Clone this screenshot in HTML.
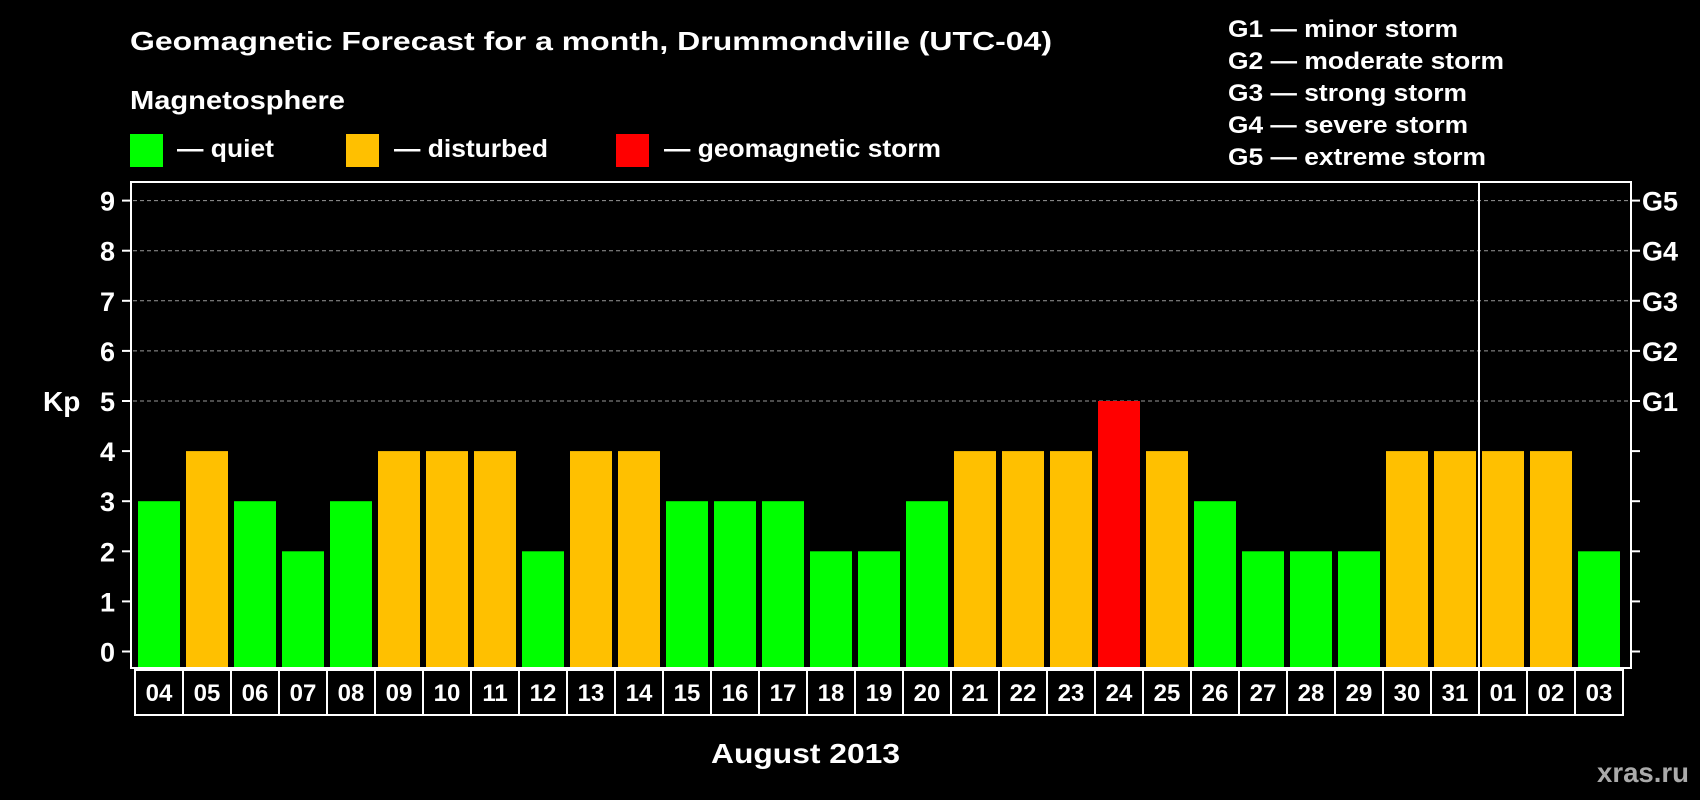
<!DOCTYPE html>
<html><head><meta charset="utf-8"><style>body{margin:0;background:#000}svg{display:block}</style></head>
<body>
<svg id="chart" width="1700" height="800" xmlns="http://www.w3.org/2000/svg" font-family="Liberation Sans, sans-serif" font-weight="bold" fill="#fff">
<rect width="1700" height="800" fill="#000"/>
<text x="130" y="50" font-size="26" textLength="922" lengthAdjust="spacingAndGlyphs">Geomagnetic Forecast for a month, Drummondville (UTC-04)</text>
<text x="130" y="109" font-size="26" textLength="215" lengthAdjust="spacingAndGlyphs">Magnetosphere</text>
<rect x="130" y="134" width="33" height="33" fill="#00ff00"/>
<text x="177" y="157" font-size="25" textLength="97" lengthAdjust="spacingAndGlyphs">— quiet</text>
<rect x="346" y="134" width="33" height="33" fill="#ffc000"/>
<text x="394" y="157" font-size="25" textLength="154" lengthAdjust="spacingAndGlyphs">— disturbed</text>
<rect x="616" y="134" width="33" height="33" fill="#ff0000"/>
<text x="664" y="157" font-size="25" textLength="277" lengthAdjust="spacingAndGlyphs">— geomagnetic storm</text>
<g font-size="24">
<text x="1228" y="37" textLength="230" lengthAdjust="spacingAndGlyphs">G1 — minor storm</text>
<text x="1228" y="69" textLength="276" lengthAdjust="spacingAndGlyphs">G2 — moderate storm</text>
<text x="1228" y="101" textLength="239" lengthAdjust="spacingAndGlyphs">G3 — strong storm</text>
<text x="1228" y="133" textLength="240" lengthAdjust="spacingAndGlyphs">G4 — severe storm</text>
<text x="1228" y="165" textLength="258" lengthAdjust="spacingAndGlyphs">G5 — extreme storm</text>
</g>
<g id="plot"></g>
<text x="43" y="411" font-size="28">Kp</text>
<text x="711" y="763" font-size="28" textLength="189" lengthAdjust="spacingAndGlyphs">August 2013</text>
<text x="1597" y="782" font-size="28" fill="#aaa" textLength="92" lengthAdjust="spacingAndGlyphs">xras.ru</text>
</svg>
<script>
const days = ["04","05","06","07","08","09","10","11","12","13","14","15","16","17","18","19","20","21","22","23","24","25","26","27","28","29","30","31","01","02","03"];
const kp = [3,4,3,2,3,4,4,4,2,4,4,3,3,3,2,2,3,4,4,4,5,4,3,2,2,2,4,4,4,4,2];
const yTicks = [0,1,2,3,4,5,6,7,8,9];
const gLabels = ["G1","G2","G3","G4","G5"];
const monthBreakIndex = 28;

const NS = "http://www.w3.org/2000/svg";
const g = document.getElementById('plot');
const X0 = 135, STEP = 48, Y0 = 651.5, UNIT = 50.1;
const TOP = 182, BOT = 668, LEFT = 131, RIGHT = 1631;
const xAt = i => X0 + i * STEP;
const yAt = v => Y0 - v * UNIT;
function mk(tag, attrs) { const e = document.createElementNS(NS, tag); for (const k in attrs) e.setAttribute(k, attrs[k]); g.appendChild(e); return e; }

yTicks.forEach(v => {
  if (v >= 5) {
    const l = mk('line', {x1: LEFT + 2, x2: RIGHT - 2, y1: yAt(v), y2: yAt(v), stroke: '#999', 'stroke-width': 1, 'stroke-dasharray': '4,3'});
    
    
  }
  const t1 = mk('line', {x1: 122, x2: LEFT, y1: yAt(v), y2: yAt(v), stroke: '#fff', 'stroke-width': 2});
  
  
  const t2 = mk('line', {x1: RIGHT, x2: RIGHT + 9, y1: yAt(v), y2: yAt(v), stroke: '#fff', 'stroke-width': 2});
  
  
  const tx = mk('text', {x: 115, y: yAt(v) + 10, 'text-anchor': 'end', 'font-size': 27});
  tx.textContent = v;
  
  
});
gLabels.forEach((s, i) => {
  const tx = mk('text', {x: 1642, y: yAt(5 + i) + 10, 'font-size': 27});
  tx.textContent = s;
  
  
});
kp.forEach((v, i) => {
  const col = v >= 5 ? '#ff0000' : (v >= 4 ? '#ffc000' : '#00ff00');
  const b = mk('rect', {x: xAt(i) + 3, y: yAt(v), width: 42, height: BOT - yAt(v), fill: col});
  
  
  const c = mk('rect', {x: xAt(i), y: BOT + 2, width: STEP, height: 45, fill: 'none', stroke: '#fff', 'stroke-width': 2});
  
  
  const t = mk('text', {x: xAt(i) + STEP / 2, y: 701, 'text-anchor': 'middle', 'font-size': 24});
  t.textContent = days[i];
  
  
});
const frame = mk('rect', {x: LEFT, y: TOP, width: RIGHT - LEFT, height: BOT - TOP, fill: 'none', stroke: '#fff', 'stroke-width': 2});


const sep = mk('line', {x1: xAt(monthBreakIndex), x2: xAt(monthBreakIndex), y1: TOP, y2: BOT + 47, stroke: '#fff', 'stroke-width': 2});


</script>
</body></html>
